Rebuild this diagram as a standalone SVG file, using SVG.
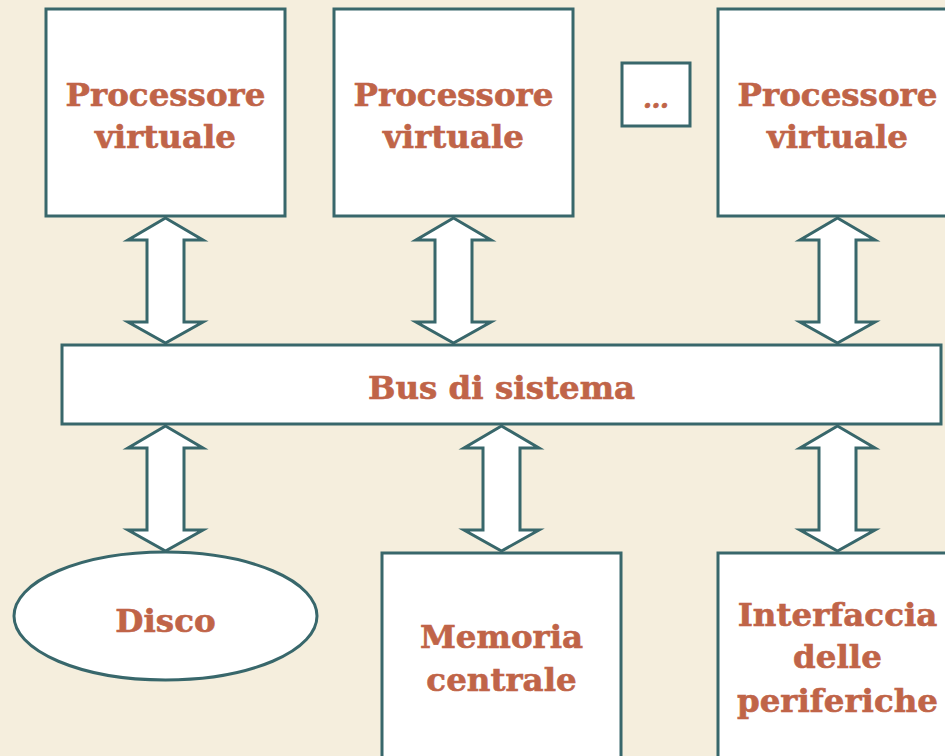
<svg xmlns="http://www.w3.org/2000/svg" width="945" height="756" viewBox="0 0 945 756">
<style>
.box{fill:#ffffff;stroke:#38676B;stroke-width:3}
.arr{fill:#ffffff;stroke:#38676B;stroke-width:3;stroke-linejoin:miter}
.t{font-family:"DejaVu Serif","Liberation Serif",serif;font-weight:bold;font-size:32.5px;fill:#C06448;text-anchor:middle;stroke:#C06448;stroke-width:0.6}
</style>
<defs>
<path id="da" d="M0,0 L37.5,22 L18.5,22 L18.5,104 L37.5,104 L0,125 L-37.5,104 L-18.5,104 L-18.5,22 L-37.5,22 Z"/>
</defs>
<rect width="945" height="756" fill="#F5EEDD"/>
<g id="connectors">
<use href="#da" class="arr" transform="translate(165.5,218)"/>
<use href="#da" class="arr" transform="translate(453.5,218)"/>
<use href="#da" class="arr" transform="translate(837.5,218)"/>
<use href="#da" class="arr" transform="translate(165.5,426)"/>
<use href="#da" class="arr" transform="translate(501.5,426)"/>
<use href="#da" class="arr" transform="translate(837.5,426)"/>
</g>
<g id="cpu1">
<rect class="box" x="46" y="9" width="239" height="207"/>
<text class="t" x="165.5" y="106">Processore</text>
<text class="t" x="165.5" y="148">virtuale</text>
</g>
<g id="cpu2">
<rect class="box" x="334" y="9" width="239" height="207"/>
<text class="t" x="453.5" y="106">Processore</text>
<text class="t" x="453.5" y="148">virtuale</text>
</g>
<g id="dots">
<rect class="box" x="622" y="63" width="68" height="63"/>
<text class="t" x="656" y="108" style="font-size:26px;font-style:italic">…</text>
</g>
<g id="cpu3">
<rect class="box" x="718" y="9" width="239" height="207"/>
<text class="t" x="837.5" y="106">Processore</text>
<text class="t" x="837.5" y="148">virtuale</text>
</g>
<g id="bus">
<rect class="box" x="62" y="345" width="879" height="79"/>
<text class="t" x="501.5" y="399">Bus di sistema</text>
</g>
<g id="disco">
<ellipse class="box" cx="165.5" cy="616" rx="151.5" ry="64"/>
<text class="t" x="165.5" y="632">Disco</text>
</g>
<g id="memoria">
<rect class="box" x="382" y="553" width="239" height="220"/>
<text class="t" x="501.5" y="648">Memoria</text>
<text class="t" x="501.5" y="691">centrale</text>
</g>
<g id="interfaccia">
<rect class="box" x="718" y="553" width="239" height="220"/>
<text class="t" x="837.5" y="626">Interfaccia</text>
<text class="t" x="837.5" y="668">delle</text>
<text class="t" x="837.5" y="712">periferiche</text>
</g>
</svg>
